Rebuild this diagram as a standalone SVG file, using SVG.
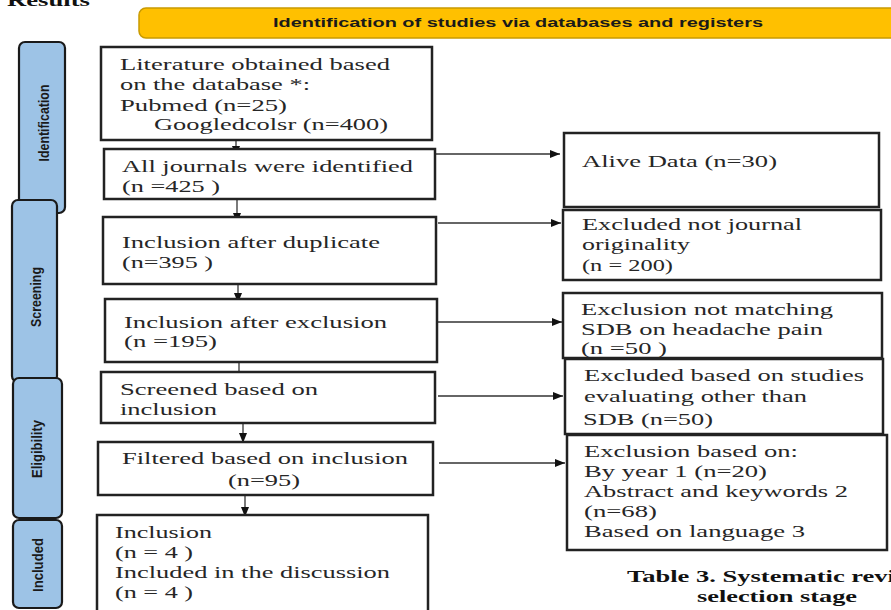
<svg xmlns="http://www.w3.org/2000/svg" width="891" height="610" viewBox="0 0 891 610">
<style>
.bg{fill:#ffffff}
.box{fill:#ffffff;stroke:#222;stroke-width:2.5}
.side{fill:#9DC3E6;stroke:#1a1a1a;stroke-width:2.2}
.t{font-family:"Liberation Serif","Times New Roman",serif;font-size:17.5px;fill:#262626}
.s{font-family:"Liberation Sans",Arial,sans-serif;font-weight:bold;font-size:14.5px;fill:#1a1a1a;text-anchor:middle}
.cap{font-family:"Liberation Serif","Times New Roman",serif;font-weight:bold;font-size:17px;fill:#111}
.c{stroke:#333;stroke-width:1.3;fill:none;marker-end:url(#ah)}
</style>
<defs>
<marker id="ah" markerUnits="userSpaceOnUse" markerWidth="10" markerHeight="8" refX="10" refY="4" orient="auto">
<path d="M0,0 L10,4 L0,8 z" fill="#111"/>
</marker>
</defs>
<rect class="bg" x="0" y="0" width="891" height="610"/>
<text class="cap" x="7" y="6" font-size="22" textLength="83" lengthAdjust="spacingAndGlyphs">Results</text>

<g id="banner">
<rect x="139" y="8" width="770" height="30" rx="7" fill="#FFC000" stroke="#C99A00" stroke-width="1.5"/>
<text x="273" y="27" font-family="'Liberation Sans',Arial,sans-serif" font-weight="bold" font-size="12.5" fill="#1a1a1a" textLength="490" lengthAdjust="spacingAndGlyphs">Identification of studies via databases and registers</text>
</g>

<g id="side-identification">
<rect class="side" x="19" y="42" width="46" height="171" rx="6"/>
<text class="s" transform="translate(49,123) rotate(-90)" textLength="77" lengthAdjust="spacingAndGlyphs">Identification</text>
</g>
<g id="side-screening">
<rect class="side" x="12" y="200" width="45" height="182" rx="6"/>
<text class="s" transform="translate(41,297) rotate(-90)" textLength="60" lengthAdjust="spacingAndGlyphs">Screening</text>
</g>
<g id="side-eligibility">
<rect class="side" x="13" y="378" width="49" height="140" rx="6"/>
<text class="s" transform="translate(42,449) rotate(-90)" textLength="58" lengthAdjust="spacingAndGlyphs">Eligibility</text>
</g>
<g id="side-included">
<rect class="side" x="13" y="520" width="49" height="88" rx="6"/>
<text class="s" transform="translate(43,565) rotate(-90)" textLength="54" lengthAdjust="spacingAndGlyphs">Included</text>
</g>

<g id="connectors">
<line class="c" x1="236" y1="128" x2="236" y2="156"/>
<line class="c" x1="237" y1="192" x2="237" y2="223"/>
<line class="c" x1="238" y1="273" x2="238" y2="303"/>
<line class="c" x1="239" y1="352" x2="239" y2="382"/>
<line class="c" x1="243" y1="415" x2="243" y2="443"/>
<line class="c" x1="245" y1="492" x2="245" y2="517"/>
<line class="c" x1="435" y1="154" x2="560" y2="154"/>
<line class="c" x1="438" y1="223" x2="561" y2="223"/>
<line class="c" x1="437" y1="322" x2="562" y2="322"/>
<line class="c" x1="438" y1="396" x2="563" y2="396"/>
<line class="c" x1="439" y1="463" x2="565" y2="463"/>
</g>

<g id="n1">
<rect class="box" x="101" y="47" width="331" height="93"/>
<text class="t" x="120" y="70" textLength="270" lengthAdjust="spacingAndGlyphs">Literature obtained based</text>
<text class="t" x="120" y="90" textLength="190" lengthAdjust="spacingAndGlyphs">on the database *:</text>
<text class="t" x="120" y="111" textLength="167" lengthAdjust="spacingAndGlyphs">Pubmed (n=25)</text>
<text class="t" x="154" y="130" textLength="234" lengthAdjust="spacingAndGlyphs">Googledcolsr (n=400)</text>
</g>
<g id="n2">
<rect class="box" x="104" y="149" width="331" height="50"/>
<text class="t" x="122" y="172" textLength="291" lengthAdjust="spacingAndGlyphs">All journals were identified</text>
<text class="t" x="122" y="192" textLength="98" lengthAdjust="spacingAndGlyphs">(n =425 )</text>
</g>
<g id="n3">
<rect class="box" x="103" y="217" width="333" height="67"/>
<text class="t" x="122" y="248" textLength="258" lengthAdjust="spacingAndGlyphs">Inclusion after duplicate</text>
<text class="t" x="122" y="268" textLength="91" lengthAdjust="spacingAndGlyphs">(n=395 )</text>
</g>
<g id="n4">
<rect class="box" x="105" y="299" width="332" height="63"/>
<text class="t" x="124" y="328" textLength="263" lengthAdjust="spacingAndGlyphs">Inclusion after exclusion</text>
<text class="t" x="124" y="347" textLength="93" lengthAdjust="spacingAndGlyphs">(n =195)</text>
</g>
<g id="n5">
<rect class="box" x="101" y="372" width="334" height="51"/>
<text class="t" x="120" y="395" textLength="198" lengthAdjust="spacingAndGlyphs">Screened based on</text>
<text class="t" x="120" y="415" textLength="97" lengthAdjust="spacingAndGlyphs">inclusion</text>
</g>
<g id="n6">
<rect class="box" x="98" y="442" width="335" height="53"/>
<text class="t" x="122" y="464" textLength="286" lengthAdjust="spacingAndGlyphs">Filtered based on inclusion</text>
<text class="t" x="228" y="486" textLength="72" lengthAdjust="spacingAndGlyphs">(n=95)</text>
</g>
<g id="n7">
<rect class="box" x="97" y="515" width="331" height="110"/>
<text class="t" x="115" y="538" textLength="97" lengthAdjust="spacingAndGlyphs">Inclusion</text>
<text class="t" x="115" y="558" textLength="78" lengthAdjust="spacingAndGlyphs">(n = 4 )</text>
<text class="t" x="115" y="578" textLength="275" lengthAdjust="spacingAndGlyphs">Included in the discussion</text>
<text class="t" x="115" y="598" textLength="78" lengthAdjust="spacingAndGlyphs">(n = 4 )</text>
</g>

<g id="r1">
<rect class="box" x="564" y="133" width="315" height="74"/>
<text class="t" x="582" y="167" textLength="195" lengthAdjust="spacingAndGlyphs">Alive Data (n=30)</text>
</g>
<g id="r2">
<rect class="box" x="563" y="210" width="318" height="70"/>
<text class="t" x="582" y="230" textLength="220" lengthAdjust="spacingAndGlyphs">Excluded not journal</text>
<text class="t" x="582" y="250" textLength="108" lengthAdjust="spacingAndGlyphs">originality</text>
<text class="t" x="582" y="271" textLength="91" lengthAdjust="spacingAndGlyphs">(n = 200)</text>
</g>
<g id="r3">
<rect class="box" x="563" y="293" width="319" height="65"/>
<text class="t" x="581" y="315" textLength="252" lengthAdjust="spacingAndGlyphs">Exclusion not matching</text>
<text class="t" x="581" y="335" textLength="242" lengthAdjust="spacingAndGlyphs">SDB on headache pain</text>
<text class="t" x="581" y="354" textLength="86" lengthAdjust="spacingAndGlyphs">(n =50 )</text>
</g>
<g id="r4">
<rect class="box" x="565" y="359" width="318" height="75"/>
<text class="t" x="584" y="381" textLength="280" lengthAdjust="spacingAndGlyphs">Excluded based on studies</text>
<text class="t" x="584" y="402" textLength="223" lengthAdjust="spacingAndGlyphs">evaluating other than</text>
<text class="t" x="583" y="425" textLength="130" lengthAdjust="spacingAndGlyphs">SDB (n=50)</text>
</g>
<g id="r5">
<rect class="box" x="567" y="435" width="320" height="115"/>
<text class="t" x="584" y="457" textLength="214" lengthAdjust="spacingAndGlyphs">Exclusion based on:</text>
<text class="t" x="584" y="477" textLength="183" lengthAdjust="spacingAndGlyphs">By year 1 (n=20)</text>
<text class="t" x="584" y="497" textLength="264" lengthAdjust="spacingAndGlyphs">Abstract and keywords 2</text>
<text class="t" x="584" y="517" textLength="73" lengthAdjust="spacingAndGlyphs">(n=68)</text>
<text class="t" x="584" y="537" textLength="221" lengthAdjust="spacingAndGlyphs">Based on language 3</text>
</g>

<text class="cap" x="627" y="582" textLength="268" lengthAdjust="spacingAndGlyphs">Table 3. Systematic revi</text>
<text class="cap" x="697" y="602" textLength="160" lengthAdjust="spacingAndGlyphs">selection stage</text>
</svg>
